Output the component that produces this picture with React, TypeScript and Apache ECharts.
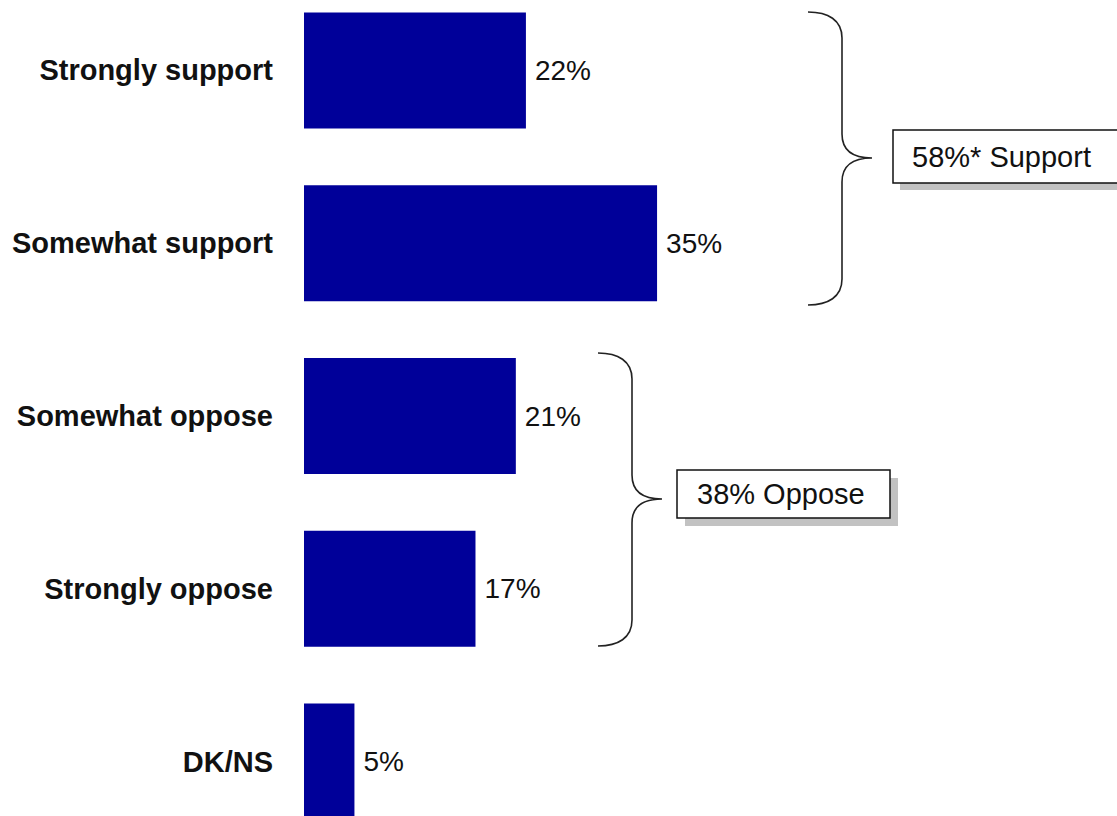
import { useEffect, useRef } from "react";
import * as echarts from "echarts";

const categories = ["Strongly support", "Somewhat support", "Somewhat oppose", "Strongly oppose", "DK/NS"];
const values = [22, 35, 21, 17, 5];
const groupLabels = ["58%* Support", "38% Oppose"];

const FONT = "'Liberation Sans', Arial, Helvetica, sans-serif";
const BRACE_D =
  "M0,0 C20,0 34,8 34,26 L34,122 C34,138 44,146 64,146 C44,146 34,154 34,170 L34,267 C34,285 20,293 0,293";

// the chart canvas starts above the visible page so the last bar is cut off as in the reference
const SHIFT = 16;
const CANVAS_H = 864;

let braceRegistered = false;
function ensureBrace() {
  if (!braceRegistered) {
    echarts.graphic.registerShape("brace", echarts.graphic.extendPath(BRACE_D, {}));
    braceRegistered = true;
  }
}

function labelBox(x: number, y: number, w: number, h: number, off: number, text: string, padLeft: number) {
  const yy = y + SHIFT;
  return [
    {
      type: "rect",
      shape: { x: x + off, y: yy + off, width: w, height: h },
      style: { fill: "#c2c2c2", stroke: null },
      z: 10,
      silent: true,
    },
    {
      type: "rect",
      shape: { x, y: yy, width: w, height: h },
      style: { fill: "#ffffff", stroke: "#111111", lineWidth: 1.5 },
      z: 11,
      silent: true,
    },
    {
      type: "text",
      x: x + padLeft,
      y: yy + h / 2,
      style: {
        text,
        font: `29px ${FONT}`,
        fill: "#111111",
        verticalAlign: "middle",
        align: "left",
      },
      z: 12,
      silent: true,
    },
  ];
}

export default function App() {
  const ref = useRef<HTMLDivElement>(null);
  useEffect(() => {
    if (!ref.current) return;
    ensureBrace();
    const chart = echarts.init(ref.current, null, { renderer: "svg" });
    chart.setOption({
      animation: false,
      backgroundColor: "#ffffff",
      grid: { left: 304, right: 6, top: 0, bottom: 0, containLabel: false },
      xAxis: {
        type: "value",
        min: 0,
        max: 80,
        show: false,
      },
      yAxis: {
        type: "category",
        data: categories,
        inverse: true,
        axisLine: { show: false },
        axisTick: { show: false },
        splitLine: { show: false },
        axisLabel: {
          margin: 31,
          fontFamily: FONT,
          fontWeight: "bold",
          fontSize: 29,
          color: "#111111",
        },
      },
      series: [
        {
          type: "bar",
          data: values,
          barWidth: 116,
          itemStyle: { color: "#000099" },
          label: {
            show: true,
            position: "right",
            distance: 9,
            formatter: "{c}%",
            fontFamily: FONT,
            fontSize: 28,
            color: "#111111",
          },
        },
      ],
      graphic: [
        {
          type: "brace",
          x: 808,
          y: 12 + SHIFT,
          style: { fill: "none", stroke: "#222222", lineWidth: 1.6 },
          z: 5,
          silent: true,
        },
        {
          type: "brace",
          x: 598,
          y: 353 + SHIFT,
          style: { fill: "none", stroke: "#222222", lineWidth: 1.6 },
          z: 5,
          silent: true,
        },
        ...labelBox(893, 130, 240, 53, 7, groupLabels[0], 19),
        ...labelBox(677, 470, 213, 48, 8, groupLabels[1], 20),
      ],
    });
    return () => chart.dispose();
  }, []);
  return (
    <div
      style={{
        position: "absolute",
        left: 0,
        top: 0,
        width: 1117,
        height: 816,
        overflow: "hidden",
        background: "#ffffff",
      }}
    >
      <div
        ref={ref}
        style={{ position: "absolute", left: 0, top: -SHIFT, width: 1117, height: CANVAS_H }}
      />
    </div>
  );
}
